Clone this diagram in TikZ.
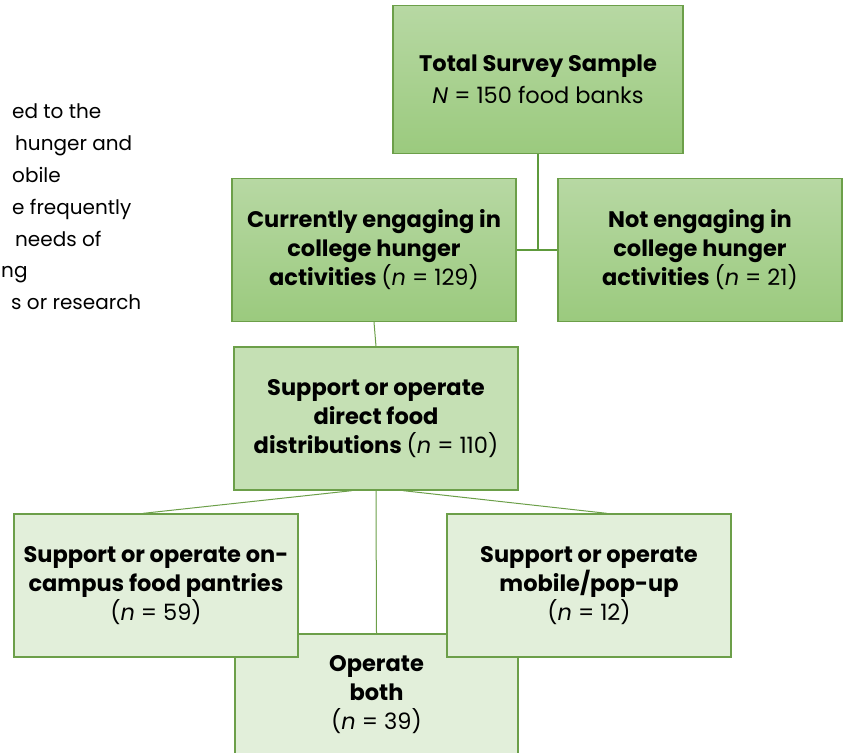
\documentclass[tikz,border=0pt]{standalone}
\usepackage{fontspec}
\setmainfont{Poppins}
\usepackage{tikz}
\usetikzlibrary{calc}
\definecolor{boxline}{HTML}{6C9F49}
\definecolor{linkgreen}{HTML}{5E9A3C}
\definecolor{topfill}{HTML}{B7D8A3}
\definecolor{botfill}{HTML}{9BCA7E}
\definecolor{midfill}{HTML}{C5E0B4}
\definecolor{leaffill}{HTML}{E2EFDA}

\begin{document}
\begin{tikzpicture}[x=1pt,y=-1pt,
		every node/.style={align=center,inner sep=0pt},
		boxbase/.style={draw=boxline,line width=1.3pt,minimum width=284pt,minimum height=143pt,
			font=\bfseries\fontsize{22.5}{29}\selectfont},
		lvlone/.style={boxbase,top color=topfill,bottom color=botfill},
		lvltwo/.style={boxbase,fill=midfill},
		lvlthree/.style={boxbase,fill=leaffill},
		parline/.style={anchor=base west,font=\fontsize{20}{24}\selectfont}]
			\clip (0,0) rectangle (845,752);
			
			%texto cortado a la izquierda
			\foreach \px/\txt [count=\i] in {12/ed to the,15/hunger and,12/obile,12/e frequently,15/needs of,1/ng,11/s or research}
				\node[parline] (par\i) at (\px,87+31.8*\i) {\txt};
			
			%primer nivel
			\node[lvlone,minimum width=290pt,minimum height=148pt] (total) at (538,79.5) {Total Survey Sample\\[3pt]{\mdseries\textit{N} = 150 food banks}};
			\node[lvlone] (engage) at (374,250) {Currently engaging in\\college hunger\\activities {\mdseries(\textit{n} = 129)}};
			\node[lvlone] (noengage) at (700,250) {Not engaging in\\college hunger\\activities {\mdseries(\textit{n} = 21)}};
			\draw[linkgreen,line width=2pt] (total.south) -- (total.south |- engage.east);
			\draw[linkgreen,line width=2pt] (engage.east) -- (noengage.west);
			
			%segundo nivel
			\node[lvltwo] (direct) at (376,418.5) {Support or operate\\direct food\\distributions {\mdseries(\textit{n} = 110)}};
			\draw[boxline,line width=1pt] (engage.south) -- (direct.north);
			
			%tercer nivel (ambos queda detras)
			\node[lvlthree,minimum width=283pt,minimum height=122pt] (both) at (376.5,695) {Operate\\both\\{\mdseries(\textit{n} = 39)}};
			\draw[boxline,line width=1pt] (direct.south) -- (both.north);
			\node[lvlthree] (pantry) at (156,585.5) {Support or operate on-\\campus food pantries\\{\mdseries(\textit{n} = 59)}};
			\node[lvlthree] (mobile) at (589,585.5) {Support or operate\\mobile/pop-up\\{\mdseries(\textit{n} = 12)}};
			\draw[boxline,line width=1pt] ($(direct.south)+(-24,0)$) -- ($(pantry.north)+(-13,0)$);
			\draw[boxline,line width=1pt] ($(direct.south)+(27,0)$) -- ($(mobile.north)+(18,0)$);
	\end{tikzpicture}
\end{document}
